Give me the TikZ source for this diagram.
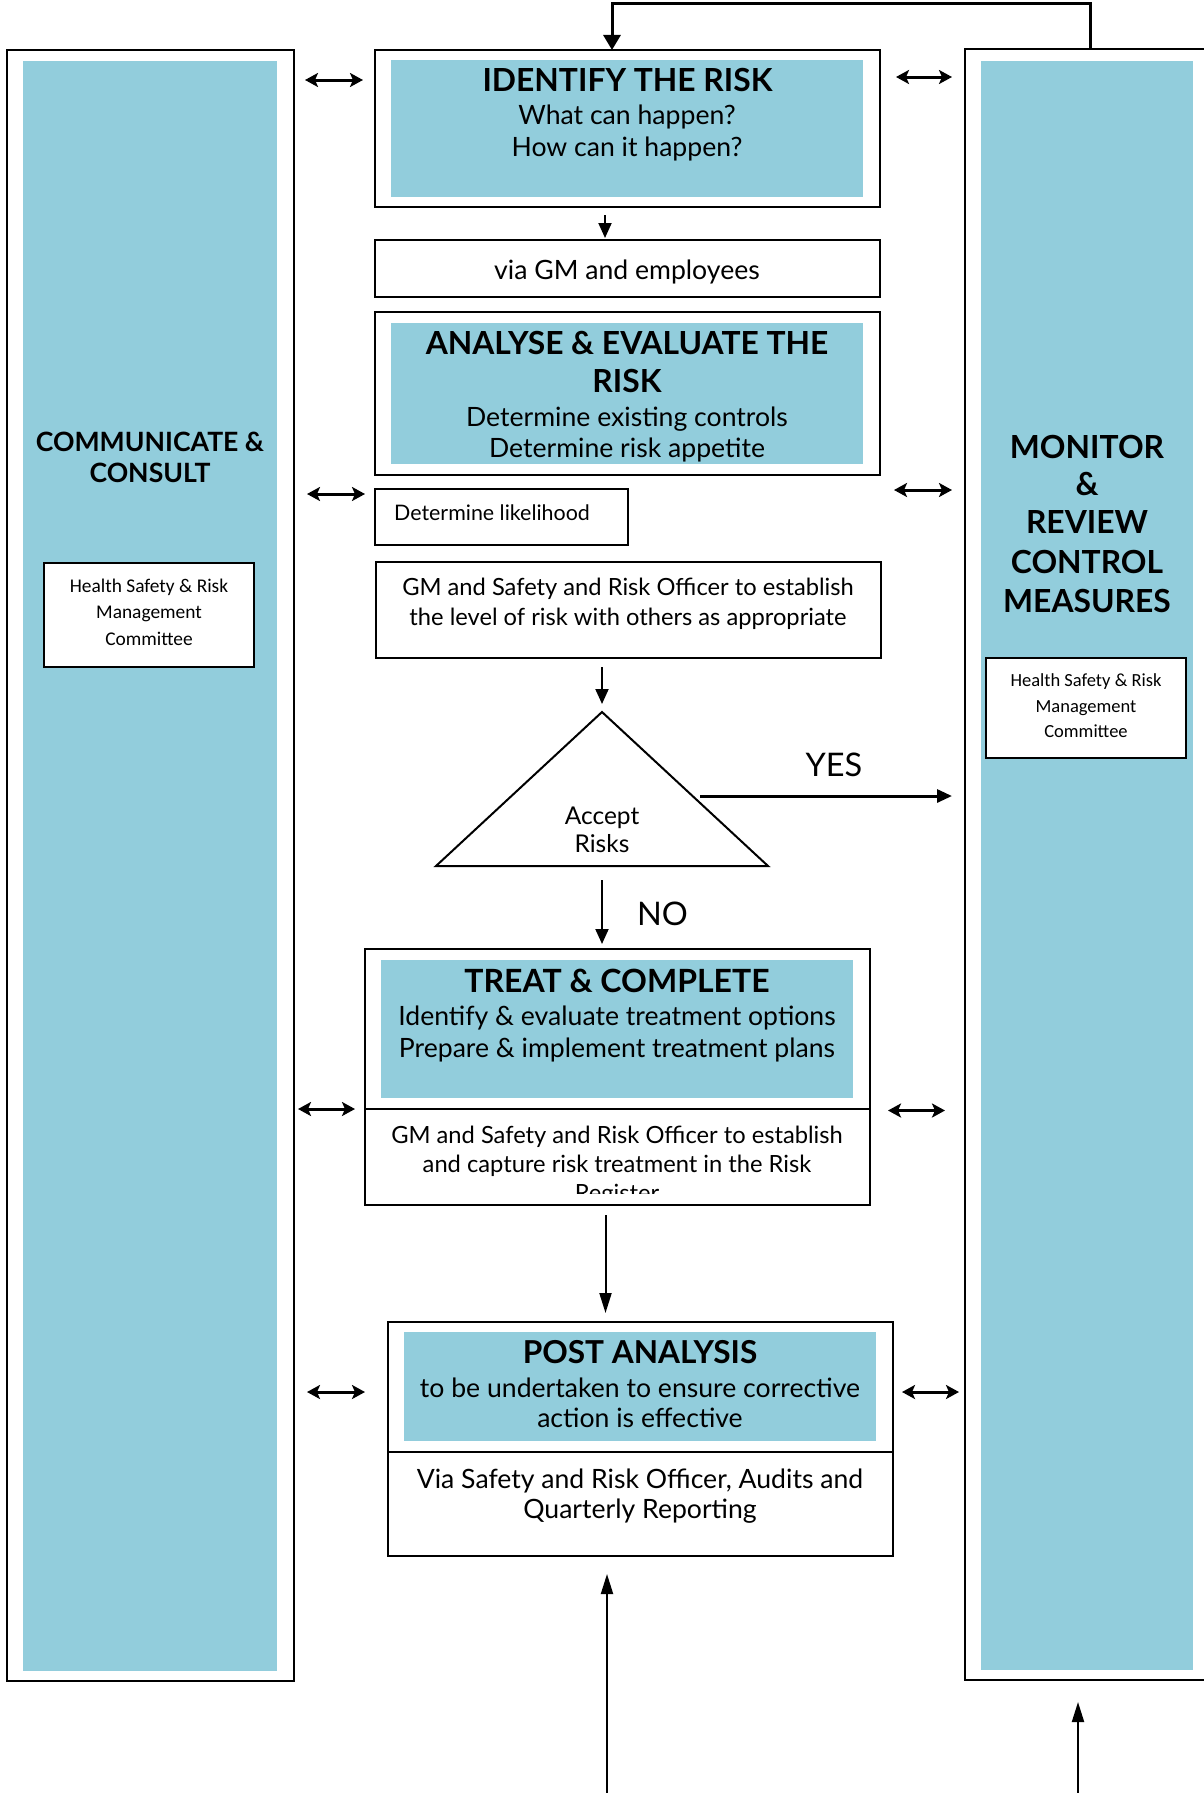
\documentclass[tikz,border=0pt]{standalone}
\usepackage{fontspec}
\setmainfont{Lato}
\newfontfamily\cmtfont{Carlito}
\usetikzlibrary{arrows.meta,calc}
\definecolor{aqua}{HTML}{92CDDC}

\begin{document}
\begin{tikzpicture}[x=1pt,y=-1pt,
  frame/.style={draw=black, line width=2pt, anchor=north west, inner sep=0pt, outer sep=0pt},
  panel/.style={fill=aqua, anchor=north west, inner sep=0pt, outer sep=0pt},
  ttl/.style={font=\fontsize{31.8}{36}\selectfont\bfseries, anchor=base, inner sep=0pt},
  side/.style={font=\fontsize{31.8}{36}\selectfont\bfseries, anchor=base, inner sep=0pt},
  body/.style={font=\fontsize{26.6}{30}\selectfont, anchor=base, inner sep=0pt},
  small/.style={font=\fontsize{23.7}{28}\selectfont, anchor=base, inner sep=0pt},
  cmt/.style={font=\cmtfont\fontsize{19.4}{22}\selectfont, anchor=base, inner sep=0pt},
  cmtr/.style={font=\cmtfont\fontsize{18.5}{22}\selectfont, anchor=base, inner sep=0pt},
  arr/.style={line width=2pt, -{Triangle[length=15pt,width=13pt]}},
  longarr/.style={line width=2pt, -{Triangle[length=20pt,width=12pt]}},
  dbl/.style={line width=3pt, {Stealth[length=13pt,width=14pt,inset=3pt]}-{Stealth[length=13pt,width=14pt,inset=3pt]}}
]
\useasboundingbox (0,0) rectangle (1203,1793);

% side panels
\node[frame, minimum width=287, minimum height=1631] (leftO) at (7,50) {};
\node[panel, minimum width=254, minimum height=1610] (leftT) at (23,61) {};
\node[frame, minimum width=265, minimum height=1631] (rightO) at (965,49) {};
\node[panel, minimum width=212, minimum height=1609] (rightT) at (981,61) {};

\node[side, font=\fontsize{26.6}{30}\selectfont\bfseries] (cc1) at (150,451) {COMMUNICATE \&};
\node[side, font=\fontsize{26.6}{30}\selectfont\bfseries] (cc2) at (150,482) {CONSULT};

\node[side] (mr1) at (1087,458) {MONITOR};
\node[side] (mr2) at (1087,495) {\&};
\node[side] (mr3) at (1087,533) {REVIEW};
\node[side] (mr4) at (1087,573) {CONTROL};
\node[side] (mr5) at (1087,612) {MEASURES};

% committee boxes
\node[frame, fill=white, minimum width=210, minimum height=104] (cmL) at (44,563) {};
\node[cmt] (cmL1) at (149,592) {Health Safety \& Risk};
\node[cmt] (cmL2) at (149,618) {Management};
\node[cmt] (cmL3) at (149,645) {Committee};
\node[frame, fill=white, minimum width=200, minimum height=100] (cmR) at (986,658) {};
\node[cmtr] (cmR1) at (1086,686) {Health Safety \& Risk};
\node[cmtr] (cmR2) at (1086,712) {Management};
\node[cmtr] (cmR3) at (1086,737) {Committee};

% identify
\node[frame, minimum width=505, minimum height=157] (idO) at (375,50) {};
\node[panel, minimum width=472, minimum height=137] (idT) at (391,60) {};
\node[ttl] (id1) at (627.5,91) {IDENTIFY THE RISK};
\node[body] (id2) at (627,124) {What can happen?};
\node[body] (id3) at (627,156) {How can it happen?};

% via
\node[frame, minimum width=505, minimum height=57] (via) at (375,240) {};
\node[body] (via1) at (627,279) {via GM and employees};

% analyse
\node[frame, minimum width=505, minimum height=163] (anO) at (375,312) {};
\node[panel, minimum width=472, minimum height=141] (anT) at (391,323) {};
\node[ttl] (an1) at (627,354) {ANALYSE \& EVALUATE THE};
\node[ttl] (an2) at (627,392.5) {RISK};
\node[body] (an3) at (627,426) {Determine existing controls};
\node[body] (an4) at (627,457.5) {Determine risk appetite};

% likelihood
\node[frame, minimum width=253, minimum height=56] (lik) at (375,489) {};
\node[font=\fontsize{21.4}{24}\selectfont, anchor=base west, inner sep=0pt] (lik1) at (394,520) {Determine likelihood};

% level of risk
\node[frame, minimum width=505, minimum height=96] (gm) at (376,562) {};
\node[small] (gm1) at (628,595) {GM and Safety and Risk Officer to establish};
\node[small] (gm2) at (628,625) {the level of risk with others as appropriate};

% decision
\coordinate (apex) at (602,712);
\coordinate (bl) at (436,866);
\coordinate (br) at (768,866);
\draw[line width=2pt, line join=miter] (apex) -- (br) -- (bl) -- cycle;
\node[font=\fontsize{24.5}{28}\selectfont, anchor=base, inner sep=0pt] (acc1) at (602,824) {Accept};
\node[font=\fontsize{24.5}{28}\selectfont, anchor=base, inner sep=0pt] (acc2) at (602,852) {Risks};
\node[font=\fontsize{32.5}{36}\selectfont, anchor=base, inner sep=0pt] (yes) at (834,776) {YES};
\node[font=\fontsize{32.5}{36}\selectfont, anchor=base, inner sep=0pt] (no) at (662.5,925) {NO};

% treat
\node[frame, minimum width=505, minimum height=256] (trO) at (365,949) {};
\node[panel, minimum width=472, minimum height=138] (trT) at (381,960) {};
\draw[line width=2pt] ($(trO.north west)+(0,160)$) -- ($(trO.north east)+(0,160)$);
\node[ttl, font=\fontsize{32}{36}\selectfont\bfseries] (tr1) at (617,992) {TREAT \& COMPLETE};
\node[body] (tr2) at (617,1025) {Identify \& evaluate treatment options};
\node[body] (tr3) at (617,1057) {Prepare \& implement treatment plans};
\begin{scope}
  \clip ($(trO.north west)+(0,161)$) rectangle ($(trO.south east)+(0,-12)$);
  \node[small] (tr4) at (617,1143) {GM and Safety and Risk Officer to establish};
  \node[small] (tr5) at (617,1172) {and capture risk treatment in the Risk};
  \node[small] (tr6) at (617,1201) {Register};
\end{scope}

% post analysis
\node[frame, minimum width=505, minimum height=234] (poO) at (388,1322) {};
\node[panel, minimum width=472, minimum height=109] (poT) at (404,1332) {};
\draw[line width=2pt] ($(poO.north west)+(0,130)$) -- ($(poO.north east)+(0,130)$);
\node[ttl, font=\fontsize{31.6}{36}\selectfont\bfseries] (po1) at (640,1363) {POST ANALYSIS};
\node[body] (po2) at (640,1397) {to be undertaken to ensure corrective};
\node[body] (po3) at (640,1427) {action is effective};
\node[body] (po4) at (640,1488) {Via Safety and Risk Officer, Audits and};
\node[body] (po5) at (640,1518) {Quarterly Reporting};

% flow connectors
\draw[line width=3pt, -{Triangle[length=15pt,width=17pt]}]
  ($(rightO.north west)+(125,0)$) -- ++(0,-45) -| ($(idO.north)+(-15.5,0)$);
\draw[arr] ($(idO.south)+(-22.5,8)$) -- ($(via.north)+(-22.5,-2)$);
\draw[arr] ($(apex |- gm.south)+(0,9)$) -- ($(apex)+(0,-8)$);
\coordinate (yesStart) at ($(apex)+(98,84)$);
\draw[arr, line width=3pt, shorten >=13pt] (yesStart) -- (yesStart -| rightO.west);
\draw[arr] ($(apex)+(0,168)$) -- ($(trO.north -| apex)+(0,-5)$);
\draw[longarr] ($(trO.south)+(-12,10)$) -- ($(poO.north)+(-35,-9)$);
\coordinate (inflow) at ($(poO.south)+(-33.5,250)$);
\draw[longarr] (inflow) -- ($(poO.south)+(-33.5,18)$);
\coordinate (reflow) at ($(rightO.south west)+(113,130)$);
\draw[longarr] (reflow) -- ($(rightO.south west)+(113,22)$);

% consult / review exchanges
\draw[dbl] ($(idO.north west -| leftO.east)+(11,30)$) -- ($(idO.north west)+(-12,30)$);
\draw[dbl] ($(idO.north east)+(16,27)$) -- ($(idO.north east -| rightO.west)+(-13,27)$);
\draw[dbl] ($(lik.north west -| leftO.east)+(13,5)$) -- ($(lik.north west)+(-10,5)$);
\draw[dbl] ($(anO.south east)+(14,15)$) -- ($(anO.south east -| rightO.west)+(-13,15)$);
\draw[dbl] ($(trO.north west -| leftO.east)+(4,160)$) -- ($(trO.north west)+(-10,160)$);
\draw[dbl] ($(trO.north east)+(18,161.5)$) -- ($(trO.north east -| rightO.west)+(-20,161.5)$);
\draw[dbl] ($(poO.north west -| leftO.east)+(13,70)$) -- ($(poO.north west)+(-23,70)$);
\draw[dbl] ($(poO.north east)+(9,70)$) -- ($(poO.north east -| rightO.west)+(-6,70)$);
\end{tikzpicture}
\end{document}
